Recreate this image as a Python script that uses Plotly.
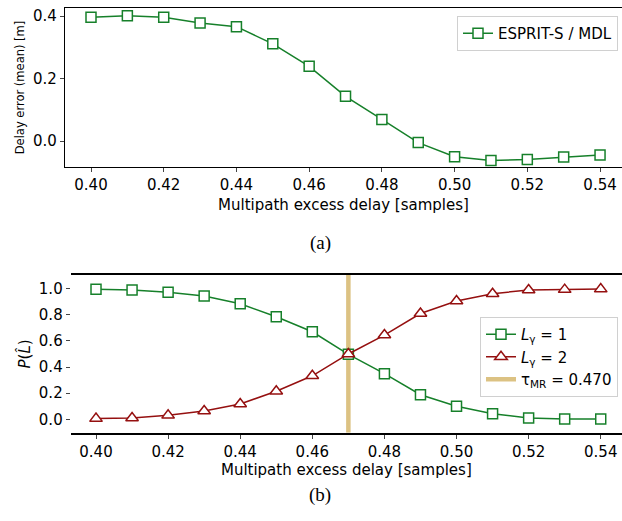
import plotly.graph_objects as go

delay = [0.40, 0.41, 0.42, 0.43, 0.44, 0.45, 0.46, 0.47, 0.48, 0.49, 0.50, 0.51, 0.52, 0.53, 0.54]
err_mean = [0.396, 0.401, 0.396, 0.378, 0.366, 0.311, 0.239, 0.143, 0.069, -0.005, -0.050, -0.062, -0.059, -0.051, -0.045]
p_l1 = [0.995, 0.99, 0.972, 0.944, 0.885, 0.785, 0.670, 0.497, 0.349, 0.188, 0.100, 0.043, 0.010, 0.002, 0.002]
p_l2 = [0.005, 0.010, 0.030, 0.063, 0.117, 0.215, 0.333, 0.500, 0.645, 0.810, 0.906, 0.962, 0.990, 0.993, 0.997]
tau_mr = 0.470

W, H = 622, 521
GREEN = "#16802a"
RED = "#951010"
TAN = "#dcc283"
FONT = "DejaVu Sans"

def px(v, total):
    return v / total

fig = go.Figure()

# top panel
fig.add_trace(go.Scatter(
    x=delay, y=err_mean, mode="lines+markers", name="ESPRIT-S / MDL",
    line=dict(color=GREEN, width=1.5),
    marker=dict(symbol="square", size=10, color="white", line=dict(color=GREEN, width=1.5)),
    xaxis="x", yaxis="y", legend="legend"))

# bottom panel
fig.add_trace(go.Scatter(
    x=[tau_mr, tau_mr], y=[-0.103, 1.105], mode="lines",
    name="τ<sub>MR</sub> = %.3f" % tau_mr,
    line=dict(color=TAN, width=4.5), legendrank=3,
    xaxis="x2", yaxis="y2", legend="legend2"))
fig.add_trace(go.Scatter(
    x=delay, y=p_l1, mode="lines+markers", name="<i>L</i><sub>γ</sub> = 1",
    line=dict(color=GREEN, width=1.5), legendrank=1,
    marker=dict(symbol="square", size=10, color="white", line=dict(color=GREEN, width=1.5)),
    xaxis="x2", yaxis="y2", legend="legend2"))
fig.add_trace(go.Scatter(
    x=delay, y=p_l2, mode="lines+markers", name="<i>L</i><sub>γ</sub> = 2",
    line=dict(color=RED, width=1.5), legendrank=2,
    marker=dict(symbol="triangle-up", size=11, color="white", line=dict(color=RED, width=1.5)),
    xaxis="x2", yaxis="y2", legend="legend2"))

tickfont = dict(family=FONT, size=15, color="black")
xt = [0.40, 0.42, 0.44, 0.46, 0.48, 0.50, 0.52, 0.54]

fig.update_layout(
    width=W, height=H, margin=dict(l=0, r=0, t=0, b=0),
    paper_bgcolor="white", plot_bgcolor="white",
    font=dict(family=FONT, size=14, color="black"),
    xaxis=dict(domain=[px(65, W), 1.0], range=[0.39285, 0.54604], anchor="y",
               tickvals=xt, tickformat=".2f", ticks="outside", ticklen=4, tickwidth=1,
               showline=True, linecolor="black", linewidth=1.2, mirror=True,
               showgrid=False, zeroline=False, tickfont=tickfont,
               title=dict(text="Multipath excess delay [samples]", font=dict(size=15), standoff=6)),
    yaxis=dict(domain=[px(521 - 167, H), px(521 - 8, H)], range=[-0.083, 0.4257], anchor="x",
               tickvals=[0.0, 0.2, 0.4], tickformat=".1f", ticks="outside", ticklen=4, tickwidth=1,
               showline=True, linecolor="black", linewidth=1.2, mirror=False,
               showgrid=False, zeroline=False, tickfont=tickfont,
               title=dict(text="Delay error (mean) [m]", font=dict(size=11.5), standoff=6)),
    xaxis2=dict(domain=[px(70.7, W), 1.0], range=[0.39298, 0.5459], anchor="y2",
                tickvals=xt, tickformat=".2f", ticks="outside", ticklen=4, tickwidth=1,
                showline=True, linecolor="black", linewidth=2, mirror=True,
                showgrid=False, zeroline=False, tickfont=tickfont,
                title=dict(text="Multipath excess delay [samples]", font=dict(size=15), standoff=4)),
    yaxis2=dict(domain=[px(521 - 432.7, H), px(521 - 275, H)], range=[-0.103, 1.105], anchor="x2",
                tickvals=[0.0, 0.2, 0.4, 0.6, 0.8, 1.0], tickformat=".1f", ticks="outside",
                ticklen=4, tickwidth=1, showline=False,
                showgrid=False, zeroline=False, tickfont=tickfont,
                title=dict(text="<i>P</i>(<i>L̂</i>)", font=dict(size=15), standoff=4)),
    legend=dict(x=px(618, W), xanchor="right", y=px(521 - 16, H), yanchor="top",
                bordercolor="#d0d0d0", borderwidth=1, bgcolor="white",
                font=dict(family=FONT, size=15)),
    legend2=dict(x=px(618, W), xanchor="right", y=px(521 - 317, H), yanchor="top",
                 bordercolor="#d0d0d0", borderwidth=1, bgcolor="white",
                 font=dict(family=FONT, size=15), traceorder="normal"),
    showlegend=True,
)

fig.add_annotation(text="(a)", x=px(320, W), y=px(521 - 243, H), xref="paper", yref="paper",
                   showarrow=False, font=dict(family="Liberation Serif", size=19, color="black"))
fig.add_annotation(text="(b)", x=px(320, W), y=px(521 - 508, H), xref="paper", yref="paper",
                   showarrow=False, font=dict(family="Liberation Serif", size=19, color="black"))

fig.write_html("out.html")
